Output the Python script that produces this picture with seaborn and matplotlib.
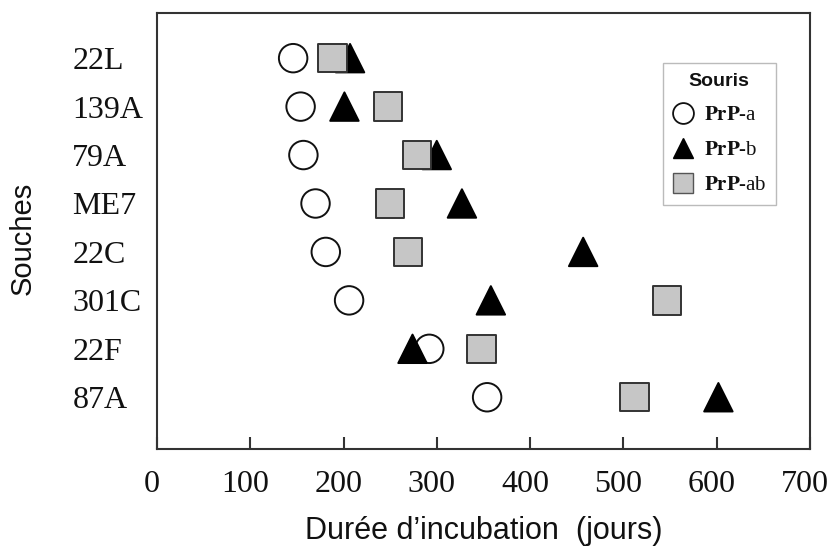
import pandas as pd
import matplotlib
matplotlib.use("Agg")
import matplotlib.pyplot as plt
import matplotlib.transforms as mtransforms
from matplotlib.lines import Line2D
import seaborn as sns

# Data (incubation days)
souches = ['22L', '139A', '79A', 'ME7', '22C', '301C', '22F', '87A']
prp_a = [146, 154, 157, 170, 181, 206, 292, 354]
prp_b = [207, 201, 300, 327, 457, 358, 274, 602]
prp_ab = [188, 248, 279, 250, 269, 547, 348, 512]
groups = ['PrP-a', 'PrP-b', 'PrP-ab']
xticks = [0, 100, 200, 300, 400, 500, 600, 700]

# Style
sns.set_theme(style="white")
plt.rcParams['font.family'] = ['Liberation Sans', 'DejaVu Sans']
plt.rcParams['mathtext.fontset'] = 'stix'
for key in ['text.color', 'axes.labelcolor', 'xtick.labelcolor', 'ytick.labelcolor']:
    plt.rcParams[key] = '#111111'

# Long form, circles first, then triangles, then squares (drawing order)
df = pd.concat([
    pd.DataFrame({'Souche': souches, 'Jours': prp_a, 'Souris': groups[0]}),
    pd.DataFrame({'Souche': souches, 'Jours': prp_b, 'Souris': groups[1]}),
    pd.DataFrame({'Souche': souches, 'Jours': prp_ab, 'Souris': groups[2]}),
], ignore_index=True)

palette = {'PrP-a': 'white', 'PrP-b': 'black', 'PrP-ab': '#c6c6c6'}
markers = {'PrP-a': 'o', 'PrP-b': '^', 'PrP-ab': 's'}
edges = {'PrP-a': '#111111', 'PrP-b': 'black', 'PrP-ab': '#333333'}

fig = plt.figure(figsize=(8.28, 5.47), dpi=100)
ax = fig.add_axes([0.1896, 0.179, 0.7884, 0.797])

sns.scatterplot(
    data=df, x='Jours', y='Souche', hue='Souris', style='Souris',
    palette=palette, markers=markers, s=420, linewidth=1.4,
    edgecolor=[edges[g] for g in df['Souris']],
    legend=False, ax=ax, zorder=3
)

ax.set_xlim(0, 700)
ax.set_ylim(len(souches) - 1 + 1.07, -0.93)
ax.set_xticks(xticks)
ax.set_xticklabels([str(t) for t in xticks], fontsize=23,
                   family=['Liberation Serif'])
ax.set_yticks(range(len(souches)))
ax.set_yticklabels(souches, fontsize=23, family=['Liberation Serif'], ha='left')

ax.tick_params(axis='x', direction='in', length=9, width=1.5,
               color='#333333', pad=15, bottom=True)
ax.tick_params(axis='y', length=0, pad=61)

# x tick labels sit a few pixels left of their ticks in the reference
shift = mtransforms.ScaledTranslation(-5 / 100, 0, fig.dpi_scale_trans)
for lab in ax.get_xticklabels():
    lab.set_transform(lab.get_transform() + shift)

for sp in ax.spines.values():
    sp.set_color('#333333')
    sp.set_linewidth(1.5)

ax.set_xlabel("Durée d\u2019incubation  (jours)", fontsize=22)
ax.xaxis.set_label_coords(0.5, -0.153)
ax.set_ylabel("Souches", fontsize=21)
ax.yaxis.set_label_coords(-0.184, 0.484)

# Legend
handles = [
    Line2D([], [], marker='o', linestyle='none', markersize=15,
           markerfacecolor='white', markeredgecolor='#111111', markeredgewidth=1.3),
    Line2D([], [], marker='^', linestyle='none', markersize=15,
           markerfacecolor='black', markeredgecolor='black'),
    Line2D([], [], marker='s', linestyle='none', markersize=15,
           markerfacecolor='#c6c6c6', markeredgecolor='#555555', markeredgewidth=1.0),
]
labels = [r'$\mathbf{PrP}$-a', r'$\mathbf{PrP}$-b', r'$\mathbf{PrP}$-ab']
leg = ax.legend(handles, labels, title='Souris', loc='upper left',
                bbox_to_anchor=(0.775, 0.885), borderaxespad=0,
                frameon=True, fancybox=False,
                prop={'family': 'Liberation Serif', 'size': 15},
                handletextpad=0.5, handlelength=1.0, labelspacing=0.75,
                borderpad=0.45)
leg.get_title().set_fontweight('bold')
leg.get_title().set_fontsize(14)
leg.get_frame().set_edgecolor('#aaaaaa')
leg.get_frame().set_linewidth(1.0)

fig.savefig('out.png', dpi=100)
